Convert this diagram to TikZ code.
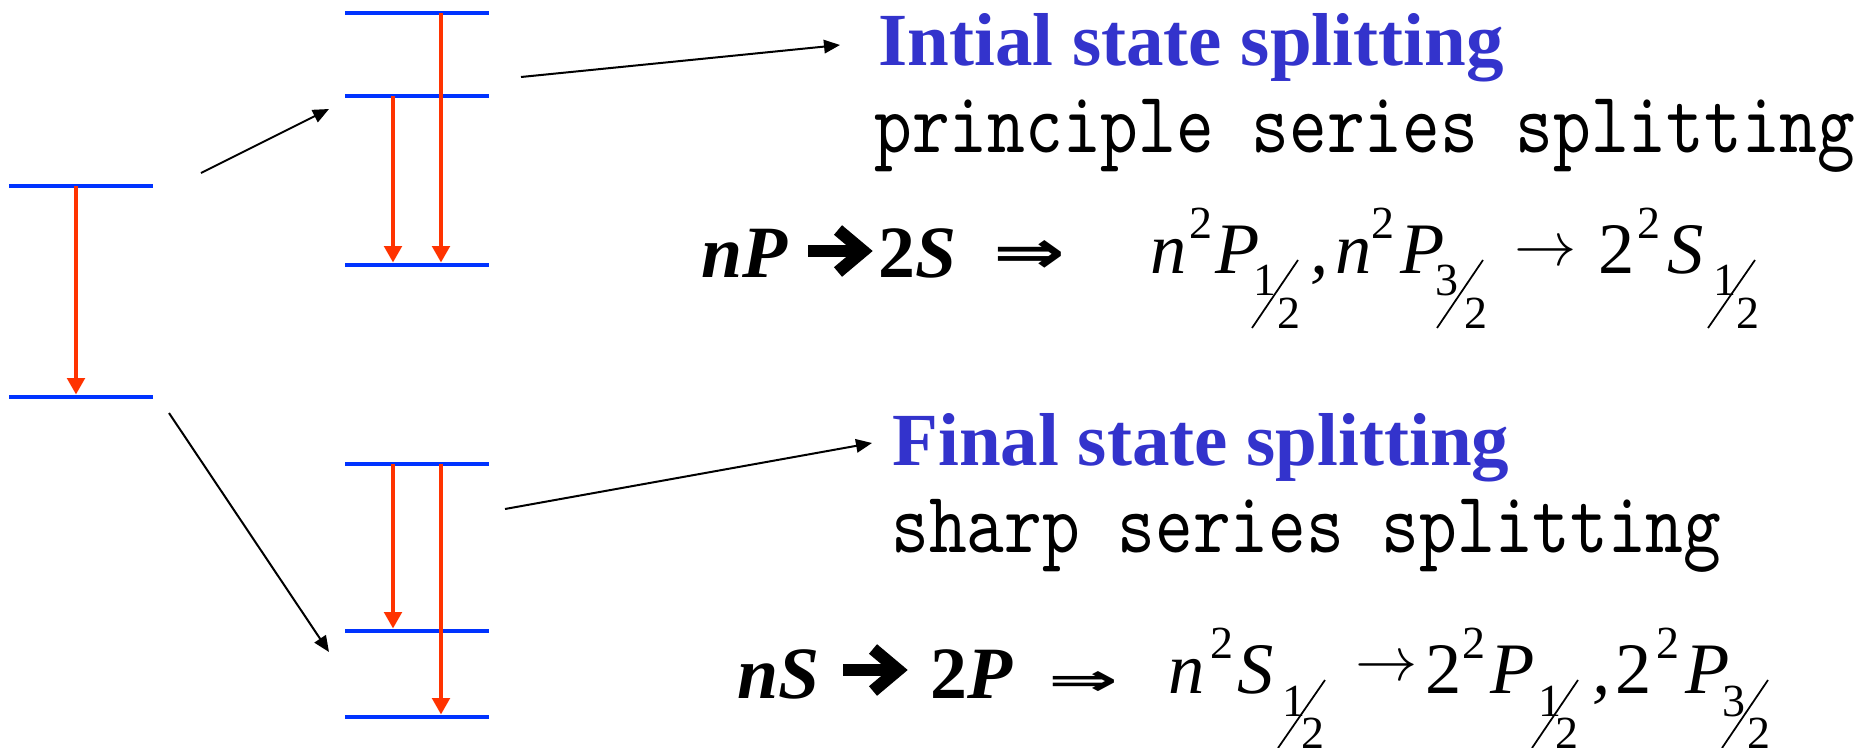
\documentclass[tikz,border=0pt]{standalone}
\usepackage{fontspec}
\usepackage{graphicx}
\usetikzlibrary{arrows.meta}
\newfontfamily\tnr{Liberation Serif}
\newfontfamily\dvs{DejaVu Sans}
\newfontfamily\monofnt[FakeStretch=0.826]{lmmono10-regular.otf}
\definecolor{lvlblue}{RGB}{0,51,255}
\definecolor{trred}{RGB}{255,51,0}
\definecolor{txtblue}{RGB}{51,51,204}
\tikzset{
  enlevel/.style={fill=lvlblue, inner sep=0pt, minimum width=57.6pt, minimum height=1.6pt},
  transarrow/.style={draw=trred, line width=1.45pt, -{Triangle[width=7pt,length=6.6pt]}},
  pointer/.style={draw=black, line width=0.8pt, -{Triangle[width=5.4pt,length=6.4pt]}},
  txt/.style={anchor=base west, inner sep=0pt},
  headtext/.style={txt, text=txtblue, font=\fontsize{30pt}{30pt}\selectfont\tnr\bfseries},
  monotext/.style={txt, font=\fontsize{34.8pt}{35pt}\selectfont\monofnt},
  eqbf/.style={txt, font=\fontsize{29.5pt}{30pt}\selectfont\tnr\bfseries\itshape},
  eqit/.style={txt, font=\fontsize{29pt}{30pt}\selectfont\tnr\itshape},
  eqrm/.style={txt, font=\fontsize{29pt}{30pt}\selectfont\tnr},
  eqsc/.style={txt, font=\fontsize{18.4pt}{18pt}\selectfont\tnr},
  eqsym/.style={anchor=center, inner sep=0pt},
  fracslash/.style={line width=0.7pt},
  pics/heavyarrow/.style={code={
    \draw[line width=5pt] (0,0) -- (50,0);
    \draw[line width=5pt, line join=miter, miter limit=20] (30,-21) -- (55,0) -- (30,21);
  }},
}
\begin{document}
\begin{tikzpicture}[x=0.4pt,y=-0.4pt]
\useasboundingbox (0,0) rectangle (1854,747);
\fill[white] (0,0) rectangle (1854,747);

% energy levels
\node[enlevel] (A1) at (81,186) {};
\node[enlevel] (A2) at (81,397) {};
\node[enlevel] (B1) at (417,13) {};
\node[enlevel] (B2) at (417,96) {};
\node[enlevel] (B3) at (417,265) {};
\node[enlevel] (C1) at (417,464) {};
\node[enlevel] (C2) at (417,631) {};
\node[enlevel] (C3) at (417,717) {};

% transitions
\draw[transarrow] ([xshift=-2pt]A1.center) -- ([xshift=-2pt]A2.north);
\draw[transarrow] ([xshift=-9.6pt]B2.center) -- ([xshift=-9.6pt]B3.north);
\draw[transarrow] ([xshift=9.6pt]B1.center) -- ([xshift=9.6pt]B3.north);
\draw[transarrow] ([xshift=-9.6pt]C1.center) -- ([xshift=-9.6pt]C2.north);
\draw[transarrow] ([xshift=9.6pt]C1.center) -- ([xshift=9.6pt]C3.north);

% texts
\node[headtext] (h1) at (878,65) {Intial state splitting};
\node[monotext] (m1) at (874,152) {principle series splitting};
\node[headtext] (h2) at (892,465) {Final state splitting};
\node[monotext] (m2) at (891,552) {sharp series splitting};

% pointers
\coordinate (p1s) at (201,173); \coordinate (p1e) at (329,109);
\coordinate (p2s) at (169,413); \coordinate (p2e) at (329,652);
\coordinate (p3s) at (521,77);  \coordinate (p3e) at (840,45);
\coordinate (p4s) at (505,509); \coordinate (p4e) at (872,443);
\draw[pointer] (p1s) -- (p1e);
\draw[pointer] (p2s) -- (p2e);
\draw[pointer] (p3s) -- (p3e);
\draw[pointer] (p4s) -- (p4e);

% equation 1
\node[eqbf] (e1a) at (701,277) {nP};
\pic at (808,251) {heavyarrow};
\node[eqbf] (e1b) at (878,277) {\upshape 2\itshape S};
\node[eqsym] (e1c) at (1029,256.5) {\resizebox{28.8pt}{13.2pt}{\dvs\bfseries ⇒}};
\node[eqit] (e1d) at (1150,273) {n};
\node[eqsc] (e1e) at (1189,238) {2};
\node[eqit] (e1f) at (1215,273) {P};
\node[eqsc] (e1g) at (1253,295) {1};
\draw[fracslash] (1252,328) -- (1298,260);
\node[eqsc] (e1h) at (1277,328) {2};
\node[eqit] (e1i) at (1310,273) {,};
\node[eqit] (e1j) at (1335,273) {n};
\node[eqsc] (e1k) at (1371,238) {2};
\node[eqit] (e1l) at (1400,273) {P};
\node[eqsc] (e1m) at (1435,295) {3};
\draw[fracslash] (1437,328) -- (1483,260);
\node[eqsc] (e1n) at (1464,328) {2};
\node[eqsym] (e1o) at (1545.5,254) {\fontsize{26pt}{26pt}\selectfont$\rightarrow$};
\node[eqrm] (e1p) at (1598,273) {2};
\node[eqsc] (e1q) at (1637,238) {2};
\node[eqit] (e1r) at (1667,273) {S};
\node[eqsc] (e1s) at (1713,295) {1};
\draw[fracslash] (1708,328) -- (1755,260);
\node[eqsc] (e1t) at (1736,328) {2};

% equation 2
\node[eqbf] (e2a) at (737,698) {nS};
\pic at (843,670) {heavyarrow};
\node[eqbf] (e2b) at (930,698) {\upshape 2\itshape P};
\node[eqsym] (e2c) at (1083,683.5) {\resizebox{28pt}{9.6pt}{\dvs\bfseries ⇒}};
\node[eqit] (e2d) at (1168,693) {n};
\node[eqsc] (e2e) at (1210,658) {2};
\node[eqit] (e2f) at (1237,693) {S};
\node[eqsc] (e2g) at (1282,716) {1};
\draw[fracslash] (1278,748) -- (1325,680);
\node[eqsc] (e2h) at (1301,748) {2};
\node[eqsym] (e2i) at (1386.5,669.5) {\fontsize{25pt}{25pt}\selectfont$\rightarrow$};
\node[eqrm] (e2j) at (1425,693) {2};
\node[eqsc] (e2k) at (1462,658) {2};
\node[eqit] (e2l) at (1490,693) {P};
\node[eqsc] (e2m) at (1538,716) {1};
\draw[fracslash] (1532,748) -- (1578,680);
\node[eqsc] (e2n) at (1555,748) {2};
\node[eqit] (e2o) at (1592,693) {,};
\node[eqrm] (e2p) at (1615,693) {2};
\node[eqsc] (e2q) at (1656,658) {2};
\node[eqit] (e2r) at (1685,693) {P};
\node[eqsc] (e2s) at (1722,716) {3};
\draw[fracslash] (1722,748) -- (1768,680);
\node[eqsc] (e2t) at (1747,748) {2};
\end{tikzpicture}
\end{document}
